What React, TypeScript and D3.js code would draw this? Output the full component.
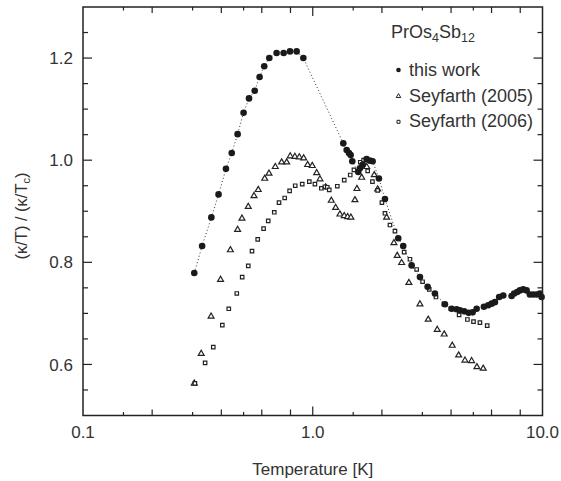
import { useRef, useEffect } from "react";
import * as d3 from "d3";

// this work (filled circles, joined by dotted line)
const thisWorkT = [
  0.305, 0.33, 0.362, 0.389, 0.419, 0.444, 0.471, 0.5, 0.528, 0.559, 0.587, 0.615, 0.647, 0.696, 0.747, 0.796,
  0.851, 0.91, 1.358, 1.405, 1.438, 1.462, 1.486, 1.578, 1.605, 1.649, 1.716, 1.774, 1.822, 1.941, 2.062, 2.356,
  2.476, 2.694, 2.928, 3.162, 3.402, 3.761, 4.022, 4.229, 4.372, 4.564, 4.77, 4.965, 5.168, 5.559, 5.803, 6.004,
  6.206, 6.479, 6.745, 7.336, 7.53, 7.76, 7.972, 8.241, 8.526, 8.813, 9.11, 9.426, 9.743, 9.91,
];
const thisWorkK = [
  0.779, 0.832, 0.888, 0.933, 0.983, 1.014, 1.051, 1.093, 1.121, 1.136, 1.163, 1.184, 1.2, 1.21, 1.21, 1.213,
  1.213, 1.2, 1.033, 1.02, 1.014, 1.01, 0.998, 0.977, 0.984, 0.991, 1.002, 0.999, 0.998, 0.964, 0.924, 0.847,
  0.832, 0.794, 0.771, 0.752, 0.739, 0.718, 0.709, 0.708, 0.706, 0.704, 0.701, 0.702, 0.709, 0.713, 0.716, 0.719,
  0.722, 0.732, 0.735, 0.734, 0.739, 0.742, 0.745, 0.747, 0.745, 0.737, 0.737, 0.737, 0.739, 0.732,
];

// Seyfarth (2005) (open triangles)
const sey2005T = [
  0.305, 0.327, 0.361, 0.397, 0.438, 0.471, 0.492, 0.524, 0.555, 0.579, 0.618, 0.645, 0.687, 0.732, 0.77, 0.798,
  0.836, 0.874, 0.913, 0.95, 0.995, 1.04, 1.075, 1.138, 1.204, 1.258, 1.313, 1.371, 1.419, 1.466, 1.526, 1.557,
  1.633, 1.717, 1.852, 1.916, 2.097, 2.256, 2.332, 2.437, 2.621, 2.928, 3.181, 3.482, 3.734, 4.046, 4.315, 4.597,
  4.915, 5.182, 5.52,
];
const sey2005K = [
  0.563, 0.621, 0.694, 0.766, 0.824, 0.864, 0.886, 0.909, 0.93, 0.942, 0.964, 0.974, 0.987, 0.996, 0.996, 1.008,
  1.007, 1.006, 1.004, 0.991, 0.989, 0.975, 0.963, 0.947, 0.921, 0.907, 0.894, 0.891, 0.889, 0.888, 0.922, 0.944,
  0.966, 0.987, 0.971, 0.943, 0.888, 0.838, 0.813, 0.799, 0.76, 0.718, 0.688, 0.668, 0.659, 0.637, 0.618, 0.608,
  0.607, 0.595, 0.592,
];

// Seyfarth (2006) (open squares)
const sey2006T = [
  0.307, 0.34, 0.369, 0.404, 0.431, 0.467, 0.493, 0.524, 0.544, 0.576, 0.611, 0.64, 0.68, 0.713, 0.755, 0.793,
  0.839, 0.9, 0.966, 1.022, 1.09, 1.13, 1.157, 1.18, 1.279, 1.371, 1.456, 1.511, 1.61, 1.665, 1.734, 1.774,
  1.819, 1.916, 2.0, 2.062, 2.168, 2.279, 2.356, 2.499, 2.649, 2.833, 3.007, 3.214, 3.437, 3.723, 3.994, 4.336,
  4.711, 5.008, 5.341, 5.746,
];
const sey2006K = [
  0.563, 0.603, 0.634, 0.677, 0.709, 0.739, 0.771, 0.793, 0.822, 0.845, 0.866, 0.881, 0.898, 0.917, 0.926, 0.94,
  0.95, 0.953, 0.958, 0.953, 0.945, 0.948, 0.947, 0.942, 0.949, 0.961, 0.971, 0.981, 0.996, 1.0, 0.979, 1.0,
  0.958, 0.941, 0.917, 0.896, 0.873, 0.861, 0.847, 0.82, 0.806, 0.786, 0.762, 0.747, 0.732, 0.718, 0.709, 0.697,
  0.688, 0.684, 0.682, 0.676,
];

// axes
const xLabelTicks = [0.1, 1, 10];
const xLabelText = ["0.1", "1.0", "10.0"];
const xMidTicks = [0.2, 0.4, 0.6, 0.8, 2, 4, 6, 8];
const xSmallTicks = [0.15, 0.3, 0.5, 1.5, 3, 5];
const yMajorTicks = [0.6, 0.8, 1.0, 1.2];
const yMinorTicks = [0.55, 0.65, 0.7, 0.75, 0.85, 0.9, 0.95, 1.05, 1.1, 1.15, 1.25];

const legendNames = ["this work", "Seyfarth (2005)", "Seyfarth (2006)"];

const FONT = "'Liberation Sans', Arial, Helvetica, sans-serif";
const INK = "#222";
const TEXT = "#333";

const App = () => {
  const svgRef = useRef<SVGSVGElement>(null);

  useEffect(() => {
    const svg = d3.select(svgRef.current);
    svg.selectAll("*").remove();

    const left = 83;
    const right = 542.5;
    const top = 7;
    const bottom = 415.5;

    const x = d3.scaleLog().domain([0.1, 10]).range([left, right]);
    const y = d3.scaleLinear().domain([0.5, 1.3]).range([bottom, top]);

    const g = svg.append("g");

    // dotted line through this work
    const line = d3
      .line<number>()
      .x((d, i) => x(thisWorkT[i]))
      .y((d) => y(d));
    g.append("path")
      .attr("d", line(thisWorkK))
      .attr("fill", "none")
      .attr("stroke", "#333")
      .attr("stroke-width", 1)
      .attr("stroke-dasharray", "1 2.4");

    // triangles
    const tri = d3.symbol().type(d3.symbolTriangle).size(15);
    g.selectAll(".tri")
      .data(sey2005K)
      .enter()
      .append("path")
      .attr("d", tri)
      .attr("transform", (d, i) => `translate(${x(sey2005T[i])},${y(d)})`)
      .attr("fill", "white")
      .attr("stroke", INK)
      .attr("stroke-width", 1.2);

    // squares
    const sq = d3.symbol().type(d3.symbolSquare).size(12);
    g.selectAll(".sq")
      .data(sey2006K)
      .enter()
      .append("path")
      .attr("d", sq)
      .attr("transform", (d, i) => `translate(${x(sey2006T[i])},${y(d)})`)
      .attr("fill", "white")
      .attr("stroke", INK)
      .attr("stroke-width", 1.2);

    // circles
    g.selectAll(".dot")
      .data(thisWorkK)
      .enter()
      .append("circle")
      .attr("cx", (d, i) => x(thisWorkT[i]))
      .attr("cy", (d) => y(d))
      .attr("r", 3.3)
      .attr("fill", "#1a1a1a");

    // frame
    g.append("rect")
      .attr("x", left)
      .attr("y", top)
      .attr("width", right - left)
      .attr("height", bottom - top)
      .attr("fill", "none")
      .attr("stroke", INK)
      .attr("stroke-width", 1.5);

    const ticks = g.append("g").attr("stroke", INK).attr("stroke-width", 1.2);
    const xTick = (vals: number[], len: number) => {
      vals.forEach((v) => {
        ticks.append("line").attr("x1", x(v)).attr("x2", x(v)).attr("y1", bottom).attr("y2", bottom - len);
        ticks.append("line").attr("x1", x(v)).attr("x2", x(v)).attr("y1", top).attr("y2", top + len);
      });
    };
    xTick(xLabelTicks.slice(1, 2), 9);
    xTick(xMidTicks, 6);
    xTick(xSmallTicks, 3.5);
    const yTick = (vals: number[], len: number) => {
      vals.forEach((v) => {
        ticks.append("line").attr("x1", left).attr("x2", left + len).attr("y1", y(v)).attr("y2", y(v));
        ticks.append("line").attr("x1", right).attr("x2", right - len).attr("y1", y(v)).attr("y2", y(v));
      });
    };
    yTick(yMajorTicks, 9);
    yTick(yMinorTicks, 5);

    // tick labels
    g.selectAll(".xl")
      .data(xLabelTicks)
      .enter()
      .append("text")
      .attr("x", (d) => x(d))
      .attr("y", 438)
      .attr("text-anchor", "middle")
      .attr("font-family", FONT)
      .attr("font-size", 17)
      .attr("fill", TEXT)
      .text((d, i) => xLabelText[i]);

    g.selectAll(".yl")
      .data(yMajorTicks)
      .enter()
      .append("text")
      .attr("x", 73)
      .attr("y", (d) => y(d))
      .attr("dy", "0.36em")
      .attr("text-anchor", "end")
      .attr("font-family", FONT)
      .attr("font-size", 17)
      .attr("fill", TEXT)
      .text((d) => d.toFixed(1));

    // axis titles
    g.append("text")
      .attr("x", (left + right) / 2)
      .attr("y", 475)
      .attr("text-anchor", "middle")
      .attr("font-family", FONT)
      .attr("font-size", 17)
      .attr("fill", TEXT)
      .text("Temperature [K]");

    const yl = g
      .append("text")
      .attr("transform", "translate(27,216) rotate(-90)")
      .attr("text-anchor", "middle")
      .attr("font-family", FONT)
      .attr("font-size", 16.5)
      .attr("fill", TEXT);
    yl.append("tspan").text("(κ/T) / (κ/T");
    yl.append("tspan").attr("font-size", 11).attr("dy", 3).text("c");
    yl.append("tspan").attr("dy", -3).text(")");

    // legend
    const title = g
      .append("text")
      .attr("x", 391)
      .attr("y", 38)
      .attr("font-family", FONT)
      .attr("font-size", 18)
      .attr("fill", TEXT);
    title.append("tspan").text("PrOs");
    title.append("tspan").attr("font-size", 12.5).attr("dy", 4).text("4");
    title.append("tspan").attr("dy", -4).text("Sb");
    title.append("tspan").attr("font-size", 12.5).attr("dy", 4).text("12");

    const legY = [76, 101.7, 127.3];
    legendNames.forEach((name, i) => {
      g.append("text")
        .attr("x", 409)
        .attr("y", legY[i])
        .attr("font-family", FONT)
        .attr("font-size", 18)
        .attr("fill", TEXT)
        .text(name);
    });
    g.append("circle").attr("cx", 398.5).attr("cy", legY[0] - 6).attr("r", 2.3).attr("fill", "#1a1a1a");
    g.append("path")
      .attr("d", d3.symbol().type(d3.symbolTriangle).size(9)())
      .attr("transform", `translate(398.5,${legY[1] - 5.5})`)
      .attr("fill", "white")
      .attr("stroke", INK)
      .attr("stroke-width", 1);
    g.append("path")
      .attr("d", d3.symbol().type(d3.symbolSquare).size(9)())
      .attr("transform", `translate(398.5,${legY[2] - 5.5})`)
      .attr("fill", "white")
      .attr("stroke", INK)
      .attr("stroke-width", 1);
  }, []);

  return (
    <svg
      ref={svgRef}
      width={561}
      height={481}
      style={{ position: "absolute", left: 0, top: 0, background: "white" }}
    ></svg>
  );
};

export default App;
